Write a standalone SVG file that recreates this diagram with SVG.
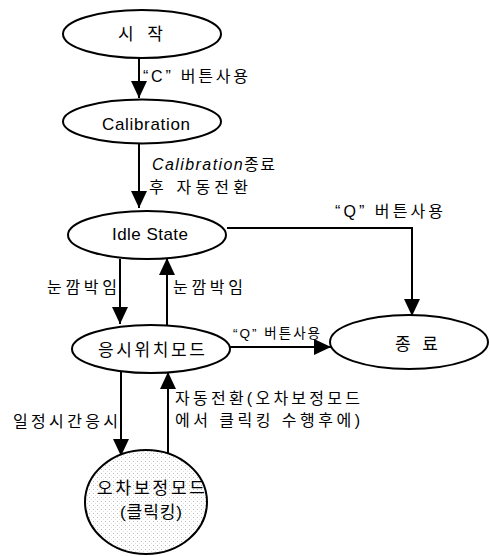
<svg xmlns="http://www.w3.org/2000/svg" width="490" height="556" viewBox="0 0 490 556">
<style>
.node{fill:#fff;stroke:#000;stroke-width:2}
.t{font-family:"Liberation Sans","Noto Sans CJK KR",sans-serif;fill:#000}
.n{font-size:17px}
.k{font-size:17px}
.l{font-size:16px}
.s{font-size:13.5px}
.c{fill:none;stroke:#000;stroke-width:2}
</style>
<defs>
<marker id="ah" markerUnits="userSpaceOnUse" markerWidth="18" markerHeight="17" refX="17" refY="8" orient="auto">
<path d="M0,0 L17,8 L0,16 z" fill="#000"/>
</marker>
<pattern id="dots" width="4" height="4" patternUnits="userSpaceOnUse">
<rect width="4" height="4" fill="#fff"/>
<rect x="1" y="1" width="1" height="1" fill="#bbb"/>
<rect x="3" y="3" width="1" height="1" fill="#ddd"/>
</pattern>
</defs>
<g id="connectors">
<line class="c" x1="139" y1="58" x2="139" y2="98" marker-end="url(#ah)"/>
<line class="c" x1="139" y1="143" x2="139" y2="208" marker-end="url(#ah)"/>
<polyline class="c" points="227,228 412,228 412,316" marker-end="url(#ah)"/>
<line class="c" x1="120" y1="259" x2="120" y2="324" marker-end="url(#ah)"/>
<line class="c" x1="167" y1="327" x2="167" y2="258" marker-end="url(#ah)"/>
<line class="c" x1="230" y1="347" x2="331" y2="347" marker-end="url(#ah)"/>
<line class="c" x1="121" y1="372" x2="121" y2="456" marker-end="url(#ah)"/>
<line class="c" x1="168" y1="453" x2="168" y2="372" marker-end="url(#ah)"/>
<text class="t l" x="143" y="82" textLength="105" lengthAdjust="spacing">“C” 버튼사용</text>
<text class="t l" x="152" y="170" textLength="123" lengthAdjust="spacing"><tspan font-style="italic">Calibration</tspan>종료</text>
<text class="t l" x="149" y="193" textLength="99" lengthAdjust="spacing">후 자동전환</text>
<text class="t l" x="335" y="217" textLength="108" lengthAdjust="spacing">“Q” 버튼사용</text>
<text class="t l" x="47" y="293" textLength="70" lengthAdjust="spacing">눈깜박임</text>
<text class="t l" x="173" y="293" textLength="70" lengthAdjust="spacing">눈깜박임</text>
<text class="t s" x="233" y="338" textLength="87" lengthAdjust="spacing">“Q” 버튼사용</text>
<text class="t l" x="13" y="427" textLength="105" lengthAdjust="spacing">일정시간응시</text>
<text class="t l" x="175" y="404" textLength="185" lengthAdjust="spacing">자동전환(오차보정모드</text>
<text class="t l" x="175" y="426" textLength="185" lengthAdjust="spacing">에서 클릭킹 수행후에)</text>
</g>
<g id="start">
<ellipse class="node" cx="142" cy="34" rx="79" ry="24"/>
<text class="t k" x="118" y="40" textLength="45" lengthAdjust="spacing">시 작</text>
</g>
<g id="calibration">
<ellipse class="node" cx="142" cy="121.5" rx="79" ry="22"/>
<text class="t n" x="102" y="130" textLength="88" lengthAdjust="spacing">Calibration</text>
</g>
<g id="idle">
<ellipse class="node" cx="147" cy="235" rx="79" ry="24"/>
<text class="t n" x="112" y="240" textLength="76" lengthAdjust="spacing">Idle State</text>
</g>
<g id="gaze">
<ellipse class="node" cx="151" cy="349" rx="79" ry="24"/>
<text class="t k" x="98" y="356" textLength="107" lengthAdjust="spacing">응시위치모드</text>
</g>
<g id="end">
<ellipse class="node" cx="409" cy="342" rx="79" ry="27"/>
<text class="t k" x="395" y="350" textLength="43" lengthAdjust="spacing">종 료</text>
</g>
<g id="correction">
<ellipse cx="146" cy="502" rx="61" ry="52" fill="url(#dots)" stroke="#000" stroke-width="2"/>
<text class="t k" x="97" y="494" textLength="108" lengthAdjust="spacing">오차보정모드</text>
<text class="t k" x="120" y="518" textLength="62" lengthAdjust="spacing">(클릭킹)</text>
</g>
</svg>
